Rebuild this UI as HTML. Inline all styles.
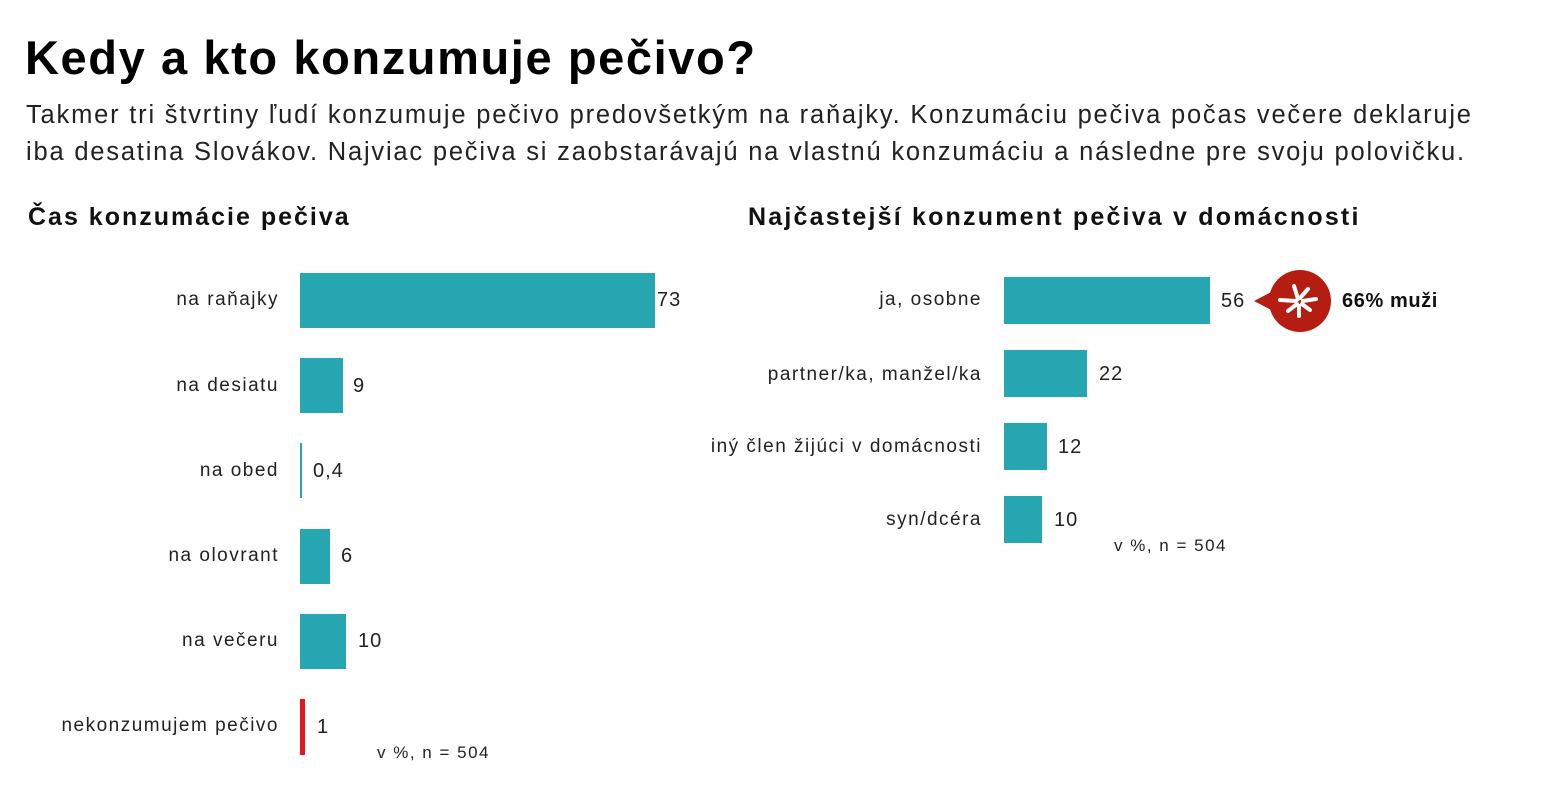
<!DOCTYPE html>
<html><head><meta charset="utf-8"><style>
body{margin:0;width:1551px;height:799px;background:#fff;font-family:"Liberation Sans",sans-serif;color:#222;position:relative;overflow:hidden}
.a{position:absolute;white-space:nowrap}
.bar{position:absolute;background:#25a6b0}
.l{position:absolute;text-align:right;font-size:19px;color:#222;letter-spacing:1.5px;white-space:nowrap}
.v{position:absolute;font-size:20px;color:#222;letter-spacing:1px}
</style></head><body>
<div class="a" style="left:25px;top:30px;font-size:47px;font-weight:bold;color:#000;letter-spacing:1.6px">Kedy a kto konzumuje pečivo?</div>
<div class="a" style="left:26px;top:97px;font-size:25.5px;line-height:37px;color:#222;letter-spacing:1.8px">Takmer tri štvrtiny ľudí konzumuje pečivo predovšetkým na raňajky. Konzumáciu pečiva počas večere deklaruje<br>iba desatina Slovákov. Najviac pečiva si zaobstarávajú na vlastnú konzumáciu a následne pre svoju polovičku.</div>
<div class="a" style="left:28px;top:203px;font-size:25px;font-weight:bold;color:#111;letter-spacing:2px">Čas konzumácie pečiva</div>
<div class="a" style="left:748px;top:203px;font-size:25px;font-weight:bold;color:#111;letter-spacing:2.2px">Najčastejší konzument pečiva v domácnosti</div>

<div class="l" style="right:1272px;top:289px">na raňajky</div>
<div class="bar" style="left:300px;top:273px;width:355px;height:55px"></div><div class="v" style="left:657px;top:289px">73</div>
<div class="l" style="right:1272px;top:375px">na desiatu</div>
<div class="bar" style="left:300px;top:358px;width:43px;height:55px"></div><div class="v" style="left:353px;top:375px">9</div>
<div class="l" style="right:1272px;top:460px">na obed</div>
<div class="bar" style="left:300px;top:443px;width:2px;height:55px"></div><div class="v" style="left:313px;top:460px">0,4</div>
<div class="l" style="right:1272px;top:545px">na olovrant</div>
<div class="bar" style="left:300px;top:529px;width:30px;height:55px"></div><div class="v" style="left:341px;top:545px">6</div>
<div class="l" style="right:1272px;top:630px">na večeru</div>
<div class="bar" style="left:300px;top:614px;width:46px;height:55px"></div><div class="v" style="left:358px;top:630px">10</div>
<div class="l" style="right:1272px;top:715px">nekonzumujem pečivo</div>
<div class="bar" style="left:300px;top:699px;width:5px;height:56px;background:#e8141b"></div><div class="v" style="left:317px;top:716px">1</div>
<div class="a" style="left:377px;top:743px;font-size:17px;letter-spacing:1.5px">v %, n = 504</div>

<div class="l" style="right:569px;top:289px">ja, osobne</div>
<div class="bar" style="left:1004px;top:277px;width:206px;height:47px"></div><div class="v" style="left:1221px;top:290px">56</div>
<div class="l" style="right:569px;top:364px">partner/ka, manžel/ka</div>
<div class="bar" style="left:1004px;top:350px;width:83px;height:47px"></div><div class="v" style="left:1099px;top:363px">22</div>
<div class="l" style="right:569px;top:436px">iný člen žijúci v domácnosti</div>
<div class="bar" style="left:1004px;top:423px;width:43px;height:47px"></div><div class="v" style="left:1058px;top:436px">12</div>
<div class="l" style="right:569px;top:509px">syn/dcéra</div>
<div class="bar" style="left:1004px;top:496px;width:38px;height:47px"></div><div class="v" style="left:1054px;top:509px">10</div>
<div class="a" style="left:1114px;top:536px;font-size:17px;letter-spacing:1.5px">v %, n = 504</div>

<svg class="a" style="left:1250px;top:268px" width="90" height="68" viewBox="1250 268 90 68">
<circle cx="1300" cy="301" r="31" fill="#b51c12"/>
<polygon points="1254,301 1275,290 1275,312" fill="#b51c12"/>
<g stroke="#fff" stroke-width="4" stroke-linecap="round">
<line x1="1298" y1="299" x2="1294" y2="286"/>
<line x1="1300" y1="298" x2="1308" y2="289"/>
<line x1="1296" y1="301" x2="1280" y2="300"/>
<line x1="1303" y1="301" x2="1316" y2="299"/>
<line x1="1297" y1="304" x2="1288" y2="311"/>
<line x1="1302" y1="304" x2="1310" y2="310"/>
<line x1="1299" y1="306" x2="1299" y2="316"/>
</g></svg>
<div class="a" style="left:1342px;top:290px;font-size:20px;font-weight:bold;color:#111;letter-spacing:0.6px">66% muži</div>
</body></html>
